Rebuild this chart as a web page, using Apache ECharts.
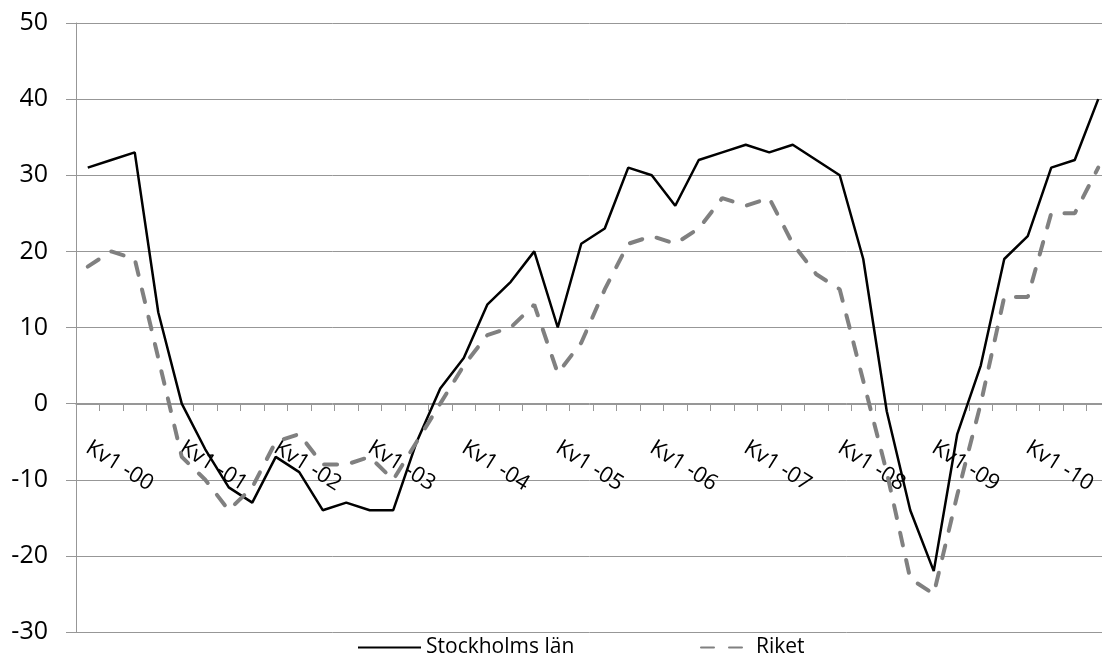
<!DOCTYPE html>
<html>
<head>
<meta charset="utf-8">
<script src="https://cdn.jsdelivr.net/npm/echarts/dist/echarts.min.js"></script>
<style>
  html, body { margin: 0; padding: 0; background: #fff; }
  #chart { width: 1102px; height: 671px; }
</style>
</head>
<body>
<div id="chart"></div>
<script>
// quarters Kv1 -00 ... Kv4 -10
var years = ['00', '01', '02', '03', '04', '05', '06', '07', '08', '09', '10'];
var quarters = ['Kv1', 'Kv2', 'Kv3', 'Kv4'];
var categories = [];
years.forEach(function (y) {
  quarters.forEach(function (q) { categories.push(q + ' -' + y); });
});

var stockholm = [31, 32, 33, 12, 0, -6, -11, -13, -7, -9, -14, -13, -14, -14, -5, 2, 6, 13, 16, 20,
  10, 21, 23, 31, 30, 26, 32, 33, 34, 33, 34, 32, 30, 19, -1, -14, -22, -4, 5, 19, 22, 31, 32, 40];
var riket = [18, 20, 19, 6, -7, -10, -14, -11, -5, -4, -8, -8, -7, -10, -5, 0, 5, 9, 10, 13,
  4, 8, 15, 21, 22, 21, 23, 27, 26, 27, 21, 17, 15, 3, -9, -23, -25, -12, 0, 14, 14, 25, 25, 31];

var FONT = '"Open Sans", sans-serif';
var gridColor = '#979797';

var chart = echarts.init(document.getElementById('chart'));
chart.setOption({
  animation: false,
  grid: {
    left: 76, right: -8, top: 23, bottom: 39,
    containLabel: false, outerBoundsMode: 'none'
  },
  legend: [{
    data: ['Stockholms län'],
    left: 352, top: 632,
    itemWidth: 63, itemHeight: 14,
    itemStyle: { opacity: 0 },
    textStyle: { fontFamily: FONT, fontSize: 21, color: '#000' }
  }, {
    data: ['Riket'],
    left: 695, top: 632,
    itemWidth: 50, itemHeight: 14,
    itemStyle: { opacity: 0 },
    textStyle: { fontFamily: FONT, fontSize: 21, color: '#000' }
  }],
  xAxis: {
    type: 'category',
    data: categories,
    boundaryGap: true,
    // axis sits on the zero line (-30..50 over the grid height)
    offset: -228,
    axisLine: { onZero: false, lineStyle: { color: gridColor, width: 1 } },
    axisTick: { show: true, interval: 0, length: 7, lineStyle: { color: gridColor, width: 1 } },
    axisLabel: {
      interval: 3, rotate: -32, margin: 42,
      fontFamily: FONT, fontSize: 22, color: '#000'
    },
    splitLine: { show: false }
  },
  yAxis: {
    type: 'value',
    min: -30, max: 50, interval: 10,
    axisLine: { show: true, lineStyle: { color: gridColor, width: 1 } },
    axisTick: { show: true, length: 10, lineStyle: { color: gridColor } },
    axisLabel: { margin: 28, fontFamily: FONT, fontSize: 25, color: '#000' },
    splitLine: { lineStyle: { color: gridColor, width: 1 } }
  },
  series: [{
    name: 'Stockholms län',
    type: 'line',
    data: stockholm,
    symbol: 'none',
    lineStyle: { color: '#000', width: 2.5 },
    itemStyle: { color: '#000' }
  }, {
    name: 'Riket',
    type: 'line',
    data: riket,
    symbol: 'none',
    lineStyle: { color: '#808080', width: 4, type: [13, 15], cap: 'round' },
    itemStyle: { color: '#808080' }
  }]
});
</script>
</body>
</html>
